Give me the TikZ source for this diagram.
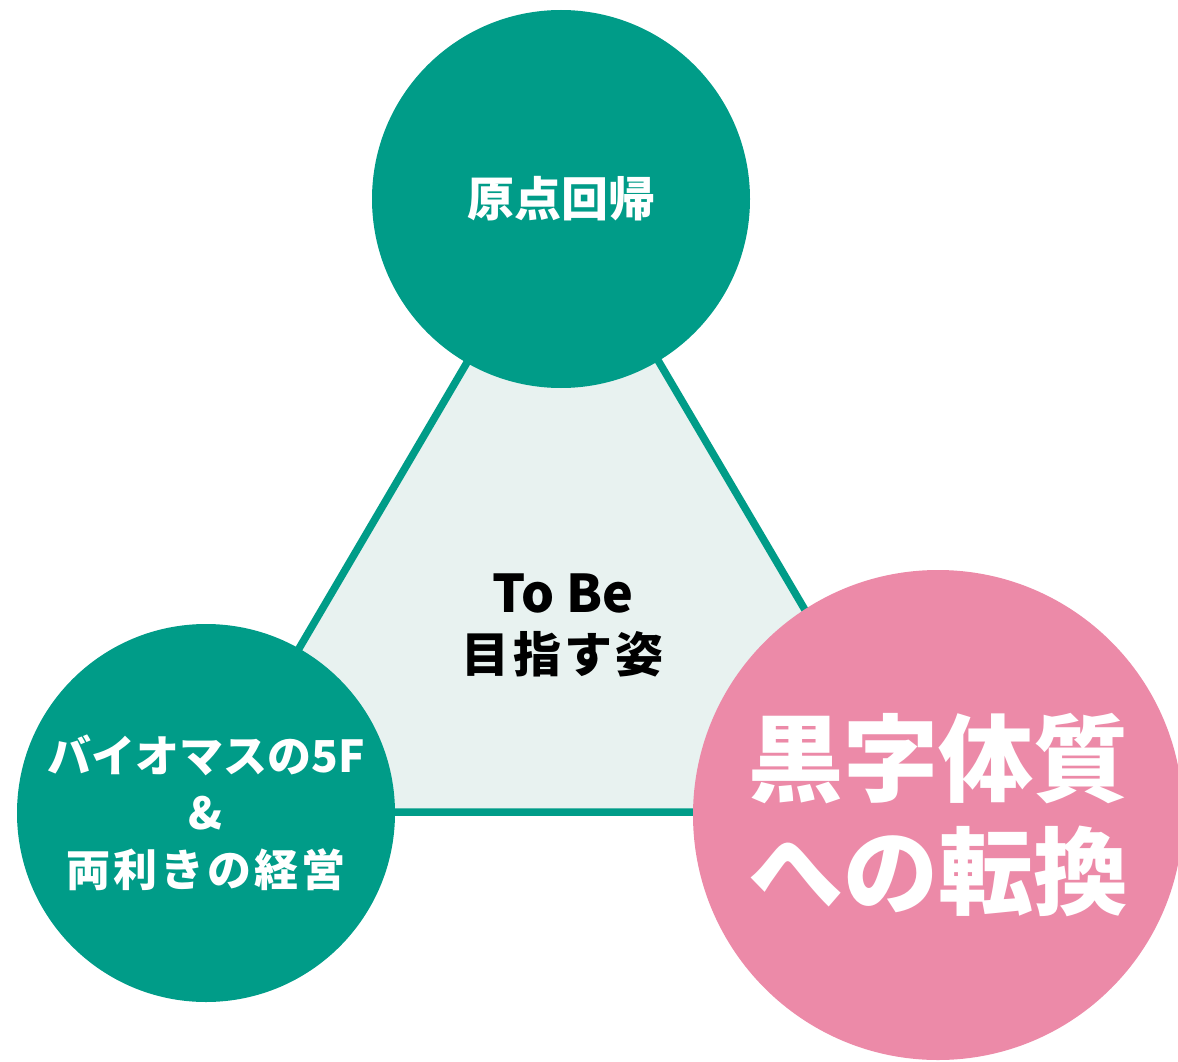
\documentclass[tikz,border=0pt]{standalone}
\usepackage{fontspec}
\setmainfont{Noto Sans CJK JP}
\usetikzlibrary{positioning}
\definecolor{leafteal}{RGB}{0,156,136}
\definecolor{blushpink}{RGB}{236,138,168}
\definecolor{mistgreen}{RGB}{232,242,240}

\begin{document}
\begin{tikzpicture}[x=1pt, y=-1pt,
  goal/.style={circle, fill=leafteal, text=white, inner sep=0pt, align=center, minimum size=378pt},
  focus/.style={circle, fill=blushpink, text=white, inner sep=0pt, align=center, minimum size=490pt}]
  % Canvas
  \useasboundingbox (0,0) rectangle (1178,1062);
  \clip (0,0) rectangle (1178,1062);

  % Triangle corners
  \coordinate (apex) at (563,199);
  \coordinate (leftcorner) at (203,812);
  \coordinate (rightcorner) at (924,812);

  % Triangle behind the circles
  \fill[mistgreen] (apex) -- (leftcorner) -- (rightcorner) -- cycle;
  \draw[leafteal, line width=7.5pt] (apex) -- (leftcorner) -- (rightcorner) -- cycle;

  % Three circles
  \node[goal, font=\bfseries\fontsize{47}{56}\selectfont] (origin) at (561,199) {原点回帰};
  \node[goal, font=\bfseries\fontsize{44}{57}\selectfont] (biomass) at (206,813)
    {バイオマスの5F\\\&\\{\addfontfeature{LetterSpace=7}両利きの経営}};
  \node[focus, font=\bfseries\fontsize{95}{113}\selectfont] (profit) at (938,815)
    {黒字体質\\への転換};

  % Centre text
  \node[align=center, font=\bfseries\fontsize{52}{60}\selectfont] (tobe) at (563,625)
    {To Be\\{\fontsize{48}{60}\selectfont\addfontfeature{LetterSpace=7}目指す姿}};
\end{tikzpicture}
\end{document}
